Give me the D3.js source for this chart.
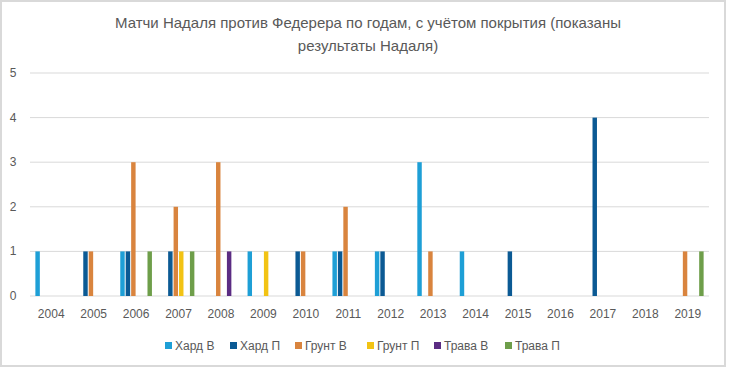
<!DOCTYPE html>
<html>
<head>
<meta charset="utf-8">
<script src="https://cdn.jsdelivr.net/npm/d3@7"></script>
<style>
  body { margin:0; background:#fff; }
  text { font-family: "Liberation Sans", Arial, sans-serif; fill:#595959; }
</style>
</head>
<body>
<svg id="chart"></svg>
<script>
var years = ["2004","2005","2006","2007","2008","2009","2010","2011","2012","2013","2014","2015","2016","2017","2018","2019"];
var seriesNames = ["Хард В","Хард П","Грунт В","Грунт П","Трава В","Трава П"];
var seriesColors = ["#1e9fd6","#0b5a94","#d9843e","#f2c314","#5b2c83","#6e9e4a"];
var yTicks = [0,1,2,3,4,5];

// one array per surface/result, values per year
var hardW  = [1,0,1,0,0,1,0,1,1,3,1,0,0,0,0,0];
var hardL  = [0,1,1,1,0,0,1,1,1,0,0,1,0,4,0,0];
var clayW  = [0,1,3,2,3,0,1,2,0,1,0,0,0,0,0,1];
var clayL  = [0,0,0,1,0,1,0,0,0,0,0,0,0,0,0,0];
var grassW = [0,0,0,0,1,0,0,0,0,0,0,0,0,0,0,0];
var grassL = [0,0,1,1,0,0,0,0,0,0,0,0,0,0,0,1];
var seriesValues = [hardW, hardL, clayW, clayL, grassW, grassL];

var screen = {width:730, height:373};
var margins = {top:73, left:30, right:21, bottom:77};
var graph = {
    width: screen.width - margins.left - margins.right,
    height: screen.height - margins.top - margins.bottom
};

var svg = d3.select("#chart")
    .attr("width", screen.width)
    .attr("height", screen.height);

// chart frame
svg.append("rect")
    .attr("x",1).attr("y",1)
    .attr("width",724).attr("height",365)
    .attr("fill","#fff")
    .attr("stroke","#d9d9d9")
    .attr("stroke-width",2);

var xScale = d3.scaleBand()
    .domain(years)
    .range([0, graph.width])
    .paddingInner(0.23)
    .paddingOuter(0.115);

var xInner = d3.scaleBand()
    .domain(seriesNames)
    .range([0, xScale.bandwidth()]);

var yScale = d3.scaleLinear()
    .domain([0,5])
    .range([graph.height, 0]);

var g = svg.append("g")
    .attr("transform","translate("+margins.left+","+margins.top+")");

// gridlines
g.selectAll(".grid")
    .data(yTicks)
    .enter()
    .append("line")
    .attr("x1",0)
    .attr("x2",graph.width)
    .attr("y1",function(d){return yScale(d)})
    .attr("y2",function(d){return yScale(d)})
    .attr("stroke","#d9d9d9")
    .attr("stroke-width",1);

// y labels
g.selectAll(".ylab")
    .data(yTicks)
    .enter()
    .append("text")
    .attr("x",-17)
    .attr("y",function(d){return yScale(d)+4})
    .attr("text-anchor","middle")
    .style("font-size","12px")
    .text(function(d){return d});

// x labels
g.selectAll(".xlab")
    .data(years)
    .enter()
    .append("text")
    .attr("x",function(d){return xScale(d)+xScale.bandwidth()/2})
    .attr("y",graph.height+22)
    .attr("text-anchor","middle")
    .style("font-size","12px")
    .text(function(d){return d});

// bars
var barData = [];
years.forEach(function(y,i){
    seriesNames.forEach(function(s,j){
        if(seriesValues[j][i] > 0)
            barData.push({year:y, series:s, value:seriesValues[j][i], color:seriesColors[j]});
    });
});

g.selectAll(".bar")
    .data(barData)
    .enter()
    .append("rect")
    .attr("x",function(d){return xScale(d.year)+xInner(d.series)+0.5})
    .attr("y",function(d){return yScale(d.value)})
    .attr("width",xInner.bandwidth()-1)
    .attr("height",function(d){return graph.height-yScale(d.value)})
    .attr("fill",function(d){return d.color});

// title
var title = svg.append("g");
title.append("text")
    .attr("x",368).attr("y",28)
    .attr("text-anchor","middle")
    .style("font-size","15px")
    .text("Матчи Надаля против Федерера по годам, с учётом покрытия (показаны");
title.append("text")
    .attr("x",368).attr("y",51)
    .attr("text-anchor","middle")
    .style("font-size","15px")
    .text("результаты Надаля)");

// legend
var legendX = [165, 230, 295, 367, 434, 505];
var legend = svg.append("g")
    .selectAll("g")
    .data(seriesNames)
    .enter()
    .append("g")
    .attr("transform",function(d,i){return "translate("+legendX[i]+",346)"});
legend.append("rect")
    .attr("x",0).attr("y",-4)
    .attr("width",7).attr("height",7)
    .attr("fill",function(d,i){return seriesColors[i]});
legend.append("text")
    .attr("x",10).attr("y",4)
    .style("font-size","12px")
    .text(function(d){return d});
</script>
</body>
</html>
